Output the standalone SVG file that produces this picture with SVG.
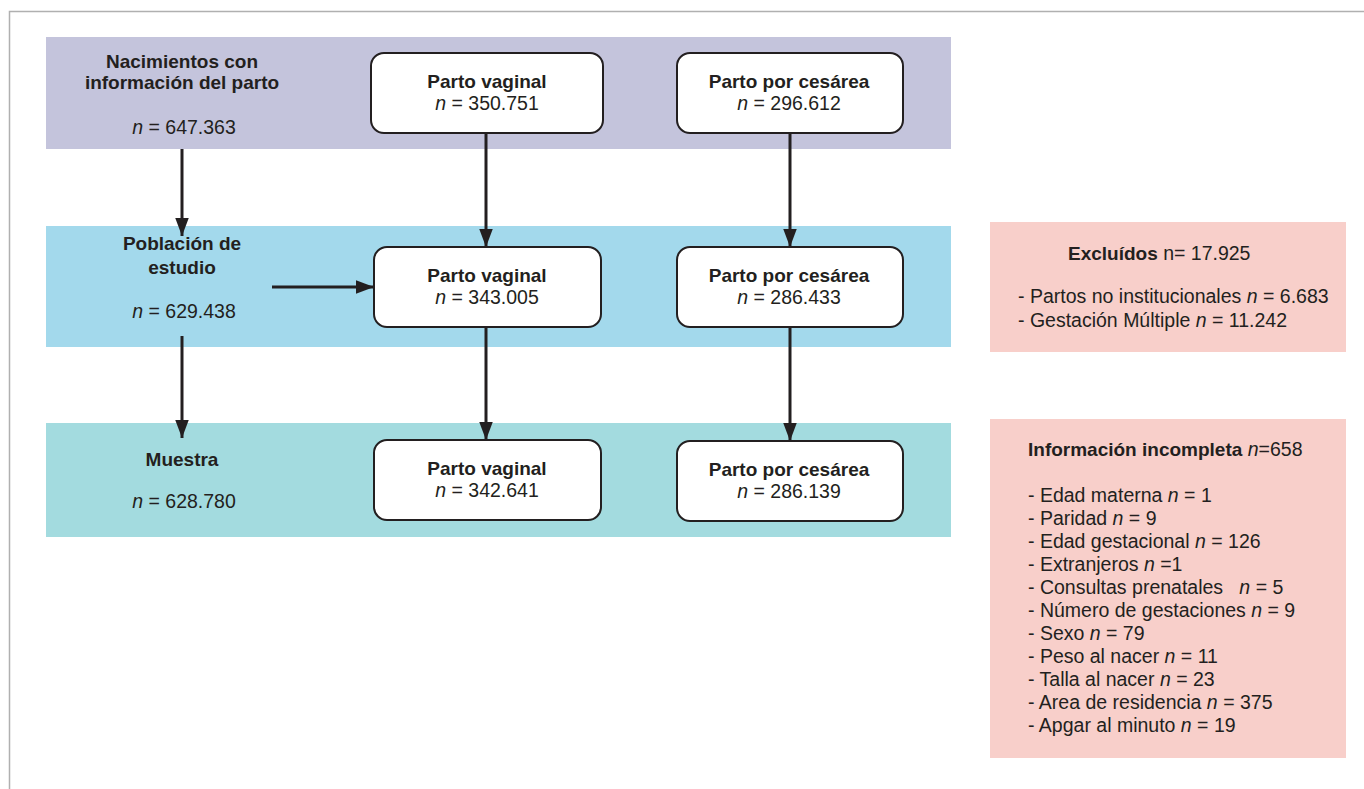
<svg xmlns="http://www.w3.org/2000/svg" width="1364" height="789" viewBox="0 0 1364 789">
<defs>
<style>
text{font-family:"Liberation Sans",Arial,sans-serif;font-size:19.5px;fill:#231f20}
.b{font-weight:bold;font-size:19px}
.c{text-anchor:middle}
.node{fill:#fff;stroke:#231f20;stroke-width:2}
.conn{stroke:#231f20;stroke-width:3;fill:none;marker-end:url(#ah)}
</style>
<marker id="ah" viewBox="0 0 16 12" refX="16" refY="6" markerWidth="6.2" markerHeight="4.6" orient="auto" markerUnits="strokeWidth">
<path d="M0,0 L16,6 L0,12 z" fill="#231f20"/>
</marker>
</defs>
<rect x="0" y="0" width="1364" height="789" fill="#fff"/>
<path d="M9.5,789 V11.5 H1364" fill="none" stroke="#b0b0b0" stroke-width="1.5"/>
<g id="bands">
<rect x="46" y="37" width="905" height="112" fill="#c4c4dc"/>
<rect x="46" y="226" width="905" height="121" fill="#a3d9ec"/>
<rect x="46" y="423" width="905" height="114" fill="#a3dbdf"/>
</g>
<g id="connectors">
<line class="conn" x1="182" y1="149" x2="182" y2="236"/>
<line class="conn" x1="486" y1="133" x2="486" y2="247"/>
<line class="conn" x1="790" y1="133" x2="790" y2="247"/>
<line class="conn" x1="182" y1="336" x2="182" y2="438"/>
<line class="conn" x1="272" y1="287" x2="374" y2="287"/>
<line class="conn" x1="486" y1="327" x2="486" y2="440"/>
<line class="conn" x1="790" y1="327" x2="790" y2="441"/>
</g>
<g id="label-nacimientos">
<text class="b c" x="182" y="68">Nacimientos con</text>
<text class="b c" x="182" y="89">información del parto</text>
<text class="c" x="184" y="134"><tspan font-style="italic">n</tspan> = 647.363</text>
</g>
<g id="label-poblacion">
<text class="b c" x="182" y="250">Población de</text>
<text class="b c" x="182" y="274">estudio</text>
<text class="c" x="184" y="318"><tspan font-style="italic">n</tspan> = 629.438</text>
</g>
<g id="label-muestra">
<text class="b c" x="182" y="466">Muestra</text>
<text class="c" x="184" y="508"><tspan font-style="italic">n</tspan> = 628.780</text>
</g>
<g id="pv1">
<rect class="node" x="371" y="53" width="232" height="80" rx="13"/>
<text class="b c" x="487" y="88">Parto vaginal</text>
<text class="c" x="487" y="110"><tspan font-style="italic">n</tspan> = 350.751</text>
</g>
<g id="pc1">
<rect class="node" x="677" y="53" width="226" height="80" rx="13"/>
<text class="b c" x="789" y="88">Parto por cesárea</text>
<text class="c" x="789" y="110"><tspan font-style="italic">n</tspan> = 296.612</text>
</g>
<g id="pv2">
<rect class="node" x="374" y="247" width="227" height="80" rx="13"/>
<text class="b c" x="487" y="282">Parto vaginal</text>
<text class="c" x="487" y="304"><tspan font-style="italic">n</tspan> = 343.005</text>
</g>
<g id="pc2">
<rect class="node" x="677" y="247" width="226" height="80" rx="13"/>
<text class="b c" x="789" y="282">Parto por cesárea</text>
<text class="c" x="789" y="304"><tspan font-style="italic">n</tspan> = 286.433</text>
</g>
<g id="pv3">
<rect class="node" x="374" y="440" width="227" height="80" rx="13"/>
<text class="b c" x="487" y="475">Parto vaginal</text>
<text class="c" x="487" y="497"><tspan font-style="italic">n</tspan> = 342.641</text>
</g>
<g id="pc3">
<rect class="node" x="677" y="441" width="226" height="80" rx="13"/>
<text class="b c" x="789" y="476">Parto por cesárea</text>
<text class="c" x="789" y="498"><tspan font-style="italic">n</tspan> = 286.139</text>
</g>
<g id="excluidos">
<rect x="990" y="222" width="356" height="130" fill="#f8cfca"/>
<text x="1068" y="260"><tspan class="b">Excluídos</tspan> n= 17.925</text>
<text x="1018" y="303">- Partos no institucionales <tspan font-style="italic">n</tspan> = 6.683</text>
<text x="1018" y="327">- Gestación Múltiple <tspan font-style="italic">n</tspan> = 11.242</text>
</g>
<g id="incompleta">
<rect x="990" y="419" width="356" height="339" fill="#f8cfca"/>
<text x="1028" y="456"><tspan class="b">Información incompleta</tspan> <tspan font-style="italic">n</tspan>=658</text>
<text x="1028" y="502">- Edad materna <tspan font-style="italic">n</tspan> = 1</text>
<text x="1028" y="525">- Paridad <tspan font-style="italic">n</tspan> = 9</text>
<text x="1028" y="548">- Edad gestacional <tspan font-style="italic">n</tspan> = 126</text>
<text x="1028" y="571">- Extranjeros <tspan font-style="italic">n</tspan> =1</text>
<text x="1028" y="594" xml:space="preserve">- Consultas prenatales   <tspan font-style="italic">n</tspan> = 5</text>
<text x="1028" y="617">- Número de gestaciones <tspan font-style="italic">n</tspan> = 9</text>
<text x="1028" y="640">- Sexo <tspan font-style="italic">n</tspan> = 79</text>
<text x="1028" y="663">- Peso al nacer <tspan font-style="italic">n</tspan> = 11</text>
<text x="1028" y="686">- Talla al nacer <tspan font-style="italic">n</tspan> = 23</text>
<text x="1028" y="709">- Area de residencia <tspan font-style="italic">n</tspan> = 375</text>
<text x="1028" y="732">- Apgar al minuto <tspan font-style="italic">n</tspan> = 19</text>
</g>
</svg>
